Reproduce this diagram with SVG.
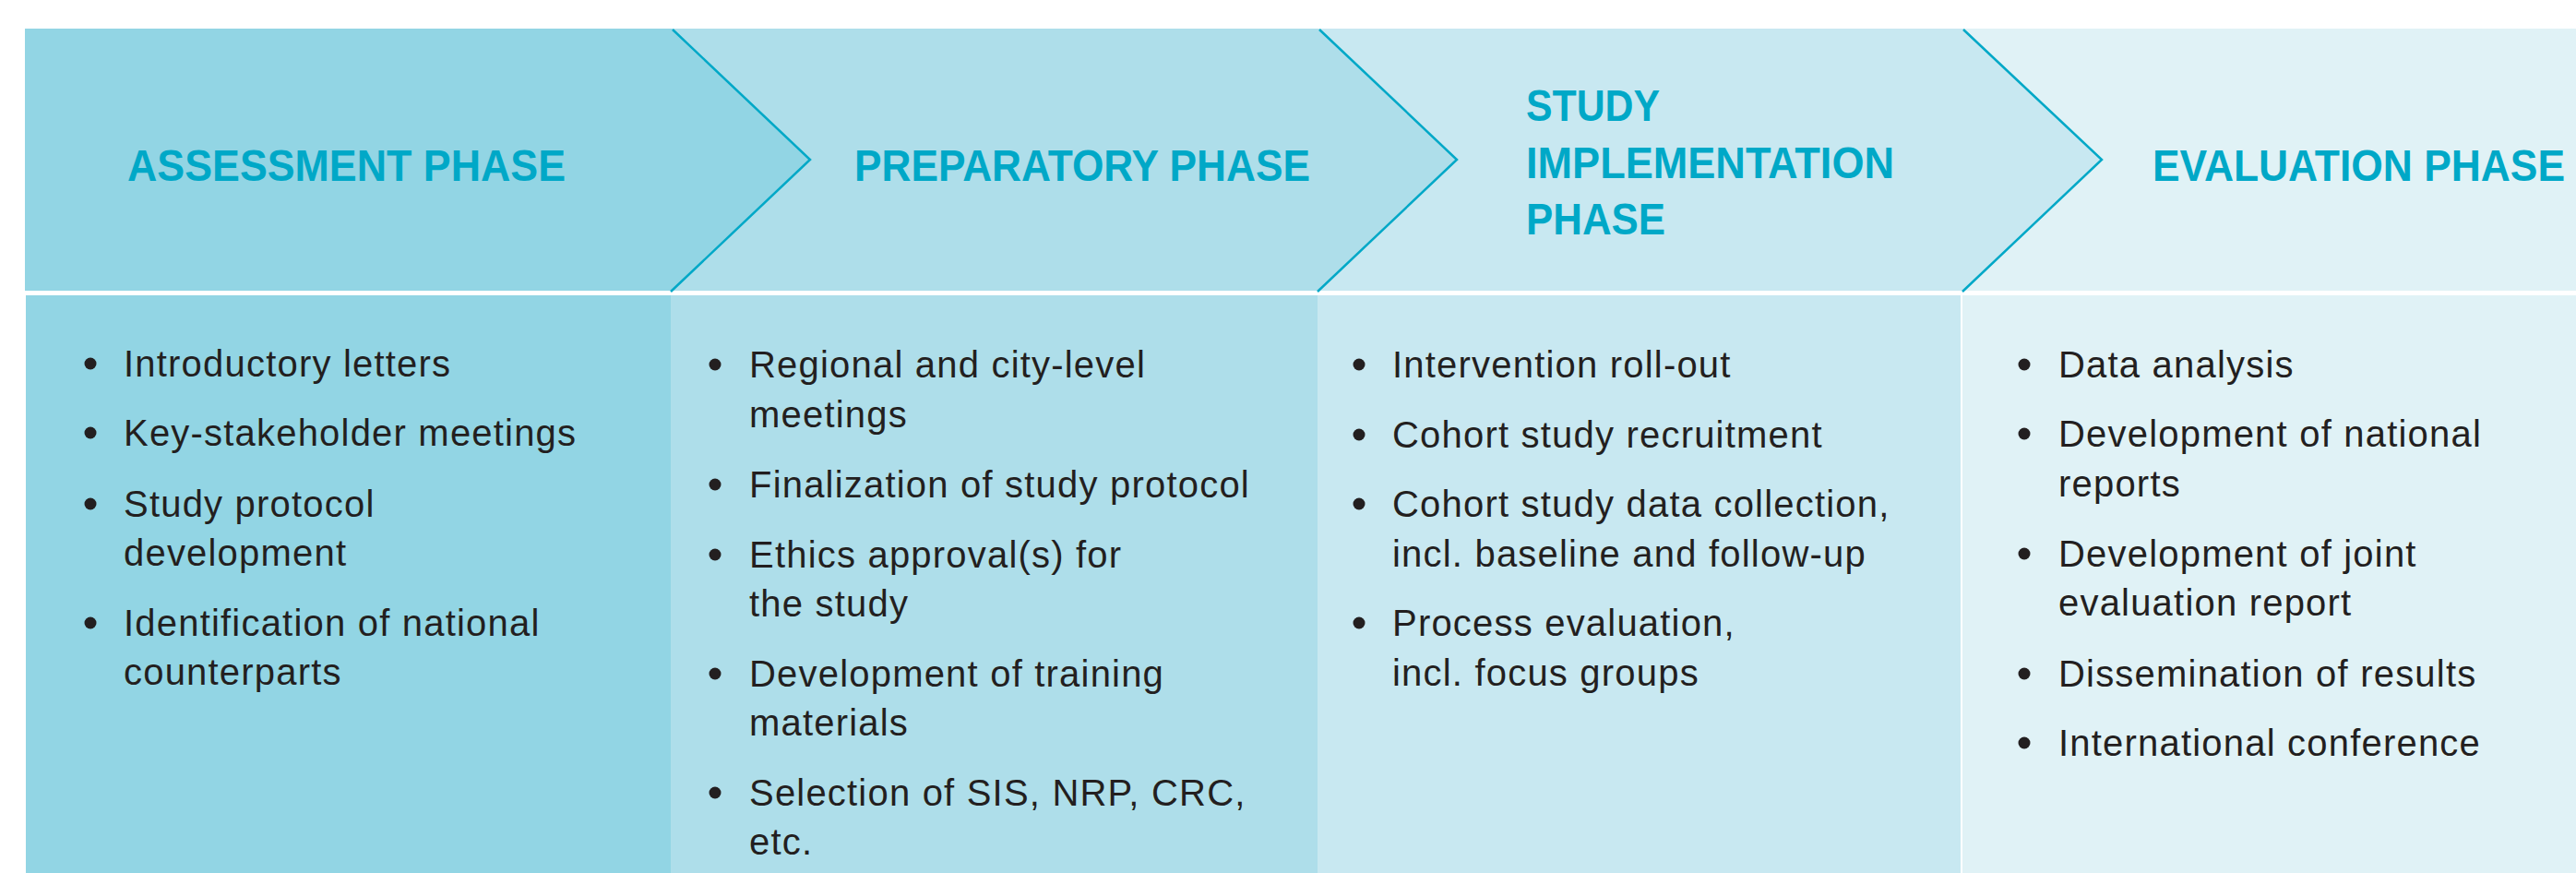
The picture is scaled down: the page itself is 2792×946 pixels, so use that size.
<svg xmlns="http://www.w3.org/2000/svg" width="2792" height="946" viewBox="0 0 2792 946">
  <style>
    .head { font-family: "Liberation Sans", Arial, sans-serif; font-weight: bold; font-size: 48px; fill: #00A8C7; }
    .item { font-family: "Liberation Sans", Arial, sans-serif; font-size: 40px; letter-spacing: 1.2px; fill: #231F20; }
    .dot { fill: #231F20; }
    .edge { fill: none; stroke: #00A8C7; stroke-width: 2.5; stroke-linejoin: miter; }
    .c1 { fill: #92D5E4; }
    .c2 { fill: #AEDEEA; }
    .c3 { fill: #C8E8F1; }
    .c4 { fill: #E0F2F6; }
  </style>
  <rect width="2792" height="946" fill="#FFFFFF"/>

  <!-- header band: chevrons, drawn back to front -->
  <rect class="c4" x="2100" y="31" width="692" height="284"/>
  <polygon class="c3" points="1400,31 2128,31 2278,173 2128,315 1400,315"/>
  <polygon class="c2" points="700,31 1429,31 1579,173 1429,315 700,315"/>
  <polygon class="c1" points="27,31 728,31 878,173 728,315 27,315"/>

  <!-- body columns -->
  <rect class="c1" x="28" y="320" width="699" height="626"/>
  <rect class="c2" x="727" y="320" width="701" height="626"/>
  <rect class="c3" x="1428" y="320" width="697" height="626"/>
  <rect class="c4" x="2127" y="320" width="665" height="626"/>

  <g id="connectors">
    <polyline class="edge" points="729,32 878,173 727,316"/>
    <polyline class="edge" points="1430,32 1579,173 1428,316"/>
    <polyline class="edge" points="2128,32 2278,173 2127,316"/>
  </g>

  <g id="assessment-phase">
    <text class="head" x="138" y="196" textLength="475" lengthAdjust="spacingAndGlyphs">ASSESSMENT PHASE</text>
    <circle class="dot" cx="98" cy="394" r="6.5"/>
    <text class="item" x="134" y="408">Introductory letters</text>
    <circle class="dot" cx="98" cy="469" r="6.5"/>
    <text class="item" x="134" y="483">Key-stakeholder meetings</text>
    <circle class="dot" cx="98" cy="546" r="6.5"/>
    <text class="item" x="134" y="560">Study protocol</text>
    <text class="item" x="134" y="613">development</text>
    <circle class="dot" cx="98" cy="675" r="6.5"/>
    <text class="item" x="134" y="689">Identification of national</text>
    <text class="item" x="134" y="742">counterparts</text>
  </g>

  <g id="preparatory-phase">
    <text class="head" x="926" y="196" textLength="494" lengthAdjust="spacingAndGlyphs">PREPARATORY PHASE</text>
    <circle class="dot" cx="775" cy="395" r="6.5"/>
    <text class="item" x="812" y="409">Regional and city-level</text>
    <text class="item" x="812" y="463">meetings</text>
    <circle class="dot" cx="775" cy="525" r="6.5"/>
    <text class="item" x="812" y="539">Finalization of study protocol</text>
    <circle class="dot" cx="775" cy="601" r="6.5"/>
    <text class="item" x="812" y="615">Ethics approval(s) for</text>
    <text class="item" x="812" y="668">the study</text>
    <circle class="dot" cx="775" cy="730" r="6.5"/>
    <text class="item" x="812" y="744">Development of training</text>
    <text class="item" x="812" y="797">materials</text>
    <circle class="dot" cx="775" cy="859" r="6.5"/>
    <text class="item" x="812" y="873">Selection of SIS, NRP, CRC,</text>
    <text class="item" x="812" y="926">etc.</text>
  </g>

  <g id="study-implementation-phase">
    <text class="head" x="1654" y="131" textLength="145" lengthAdjust="spacingAndGlyphs">STUDY</text>
    <text class="head" x="1654" y="193" textLength="399" lengthAdjust="spacingAndGlyphs">IMPLEMENTATION</text>
    <text class="head" x="1654" y="254" textLength="151" lengthAdjust="spacingAndGlyphs">PHASE</text>
    <circle class="dot" cx="1473" cy="395" r="6.5"/>
    <text class="item" x="1509" y="409">Intervention roll-out</text>
    <circle class="dot" cx="1473" cy="471" r="6.5"/>
    <text class="item" x="1509" y="485">Cohort study recruitment</text>
    <circle class="dot" cx="1473" cy="546" r="6.5"/>
    <text class="item" x="1509" y="560">Cohort study data collection,</text>
    <text class="item" x="1509" y="614">incl. baseline and follow-up</text>
    <circle class="dot" cx="1473" cy="675" r="6.5"/>
    <text class="item" x="1509" y="689">Process evaluation,</text>
    <text class="item" x="1509" y="743">incl. focus groups</text>
  </g>

  <g id="evaluation-phase">
    <text class="head" x="2333" y="196" textLength="447" lengthAdjust="spacingAndGlyphs">EVALUATION PHASE</text>
    <circle class="dot" cx="2194" cy="395" r="6.5"/>
    <text class="item" x="2231" y="409">Data analysis</text>
    <circle class="dot" cx="2194" cy="470" r="6.5"/>
    <text class="item" x="2231" y="484">Development of national</text>
    <text class="item" x="2231" y="538">reports</text>
    <circle class="dot" cx="2194" cy="600" r="6.5"/>
    <text class="item" x="2231" y="614">Development of joint</text>
    <text class="item" x="2231" y="667">evaluation report</text>
    <circle class="dot" cx="2194" cy="730" r="6.5"/>
    <text class="item" x="2231" y="744">Dissemination of results</text>
    <circle class="dot" cx="2194" cy="805" r="6.5"/>
    <text class="item" x="2231" y="819">International conference</text>
  </g>
</svg>
